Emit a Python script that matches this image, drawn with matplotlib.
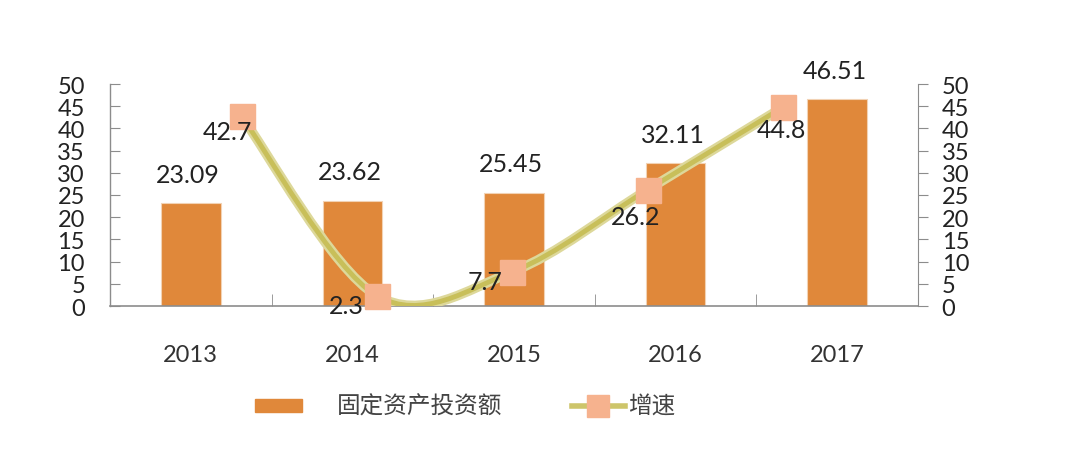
import matplotlib
matplotlib.use("Agg")
import matplotlib.pyplot as plt
from matplotlib.path import Path
from matplotlib.patches import PathPatch, Rectangle
from matplotlib.lines import Line2D
import numpy as np

years = ["2013", "2014", "2015", "2016", "2017"]
invest = [23.09, 23.62, 25.45, 32.11, 46.51]
growth = [42.7, 2.3, 7.7, 26.2, 44.8]
growth_labels = ["42.7", "2.3", "7.7", "26.2", "44.8"]
yticks = [0, 5, 10, 15, 20, 25, 30, 35, 40, 45, 50]
legend_labels = ["固定资产投资额", "增速"]

plt.rcParams['font.family'] = ['Lato', 'DejaVu Sans']

W, H = 1068, 456
fig = plt.figure(figsize=(W / 100, H / 100), dpi=100)
ax = fig.add_axes([110 / W, 1 - 307 / H, (918 - 110) / W, (307 - 85) / H])

bar_color = '#e0883a'
line_color = '#cdc56a'
marker_color = '#f6b28e'
axis_color = '#8c8c8c'

x = np.arange(len(years))
ax.bar(x, invest, width=0.37, color=bar_color, edgecolor='#f2d2b4', linewidth=0.8, zorder=2)
ax.set_xlim(-0.5, 4.5)
ax.set_ylim(0, 50)
ax.set_yticks(yticks)
ax.set_yticklabels([str(t) for t in yticks], fontsize=17, color='#222222')
ax.set_xticks(x)
ax.set_xticklabels(years, fontsize=17, color='#333333')
ax.set_xticks(np.arange(0.5, 4.5, 1), minor=True)
ax.tick_params(axis='x', which='major', length=0, pad=27)
ax.tick_params(axis='x', which='minor', length=9, direction='in', color=axis_color)
ax.tick_params(axis='y', length=7, direction='in', color=axis_color, pad=18)
for s in ['top', 'right']:
    ax.spines[s].set_visible(False)
ax.spines['left'].set_color(axis_color)
ax.spines['bottom'].set_color(axis_color)
ax.spines['left'].set_linewidth(1.0)
ax.spines['bottom'].set_linewidth(1.2)

for xi, v in zip(x, invest):
    ax.annotate(f"{v:.2f}", (xi, v), xytext=(-2, 21), textcoords='offset points',
                ha='center', va='center', fontsize=18, color='#222222', zorder=6)

# right axis
ax2 = ax.twinx()
ax2.set_ylim(0, 50)
ax2.set_yticks(yticks)
ax2.set_yticklabels([str(t) for t in yticks], fontsize=17, color='#222222')
ax2.tick_params(axis='y', length=7, direction='out', color=axis_color, pad=10)
for s in ['top', 'left', 'bottom']:
    ax2.spines[s].set_visible(False)
ax2.spines['right'].set_color(axis_color)

# line on its own x scale
ax3 = ax2.twiny()
ax3.set_xlim(-0.972, 4.996)
ax3.set_ylim(0, 50)
ax3.axis('off')

# smoothed line (Excel-like bezier) in display-scaled coords
sx, sy = 135.4, 222 / 50
P = np.column_stack([np.arange(len(growth)) * sx, np.array(growth) * sy])
verts = [P[0]]
codes = [Path.MOVETO]
n = len(P)
for i in range(n - 1):
    p0 = P[i - 1] if i > 0 else P[i]
    p1 = P[i]
    p2 = P[i + 1]
    p3 = P[i + 2] if i + 2 < n else P[i + 1]
    c1 = p1 + (p2 - p0) / 6
    c2 = p2 - (p3 - p1) / 6
    verts += [c1, c2, p2]
    codes += [Path.CURVE4] * 3
verts = np.array(verts) / np.array([sx, sy])
path = Path(verts, codes)
ax3.add_patch(PathPatch(path, facecolor='none', edgecolor='#ddd89a', linewidth=7, zorder=3,
                        capstyle='round', clip_on=True))
ax3.add_patch(PathPatch(path, facecolor='none', edgecolor='#c8bf5a', linewidth=3.5, zorder=3,
                        capstyle='round', clip_on=True))
ax3.plot(np.arange(len(growth)), growth, linestyle='none', marker='s', markersize=18,
         color=marker_color, zorder=4, clip_on=False)

offsets = [(-10, -11), (-22, -7), (-20, -7), (-9, -19), (-1, -16)]
for xi, v, lab, off in zip(np.arange(len(growth)), growth, growth_labels, offsets):
    ax3.annotate(lab, (xi, v), xytext=off, textcoords='offset points',
                 ha='center', va='center', fontsize=18, color='#222222', zorder=6,
                 annotation_clip=False)

# legend
fig.patches.append(Rectangle((255 / W, 1 - 413 / H), 47 / W, 13 / H, transform=fig.transFigure,
                             color=bar_color, zorder=5))
fig.text(337 / W, 1 - 407 / H, legend_labels[0], fontsize=17, va='center', ha='left',
         color='#444444', family=['Noto Sans CJK SC', 'DejaVu Sans'], fontweight='light')
fig.lines.append(Line2D([572 / W, 625 / W], [1 - 407 / H, 1 - 407 / H], transform=fig.transFigure,
                        color=line_color, linewidth=4))
fig.lines.append(Line2D([598 / W], [1 - 407 / H], transform=fig.transFigure, marker='s',
                        markersize=16, color=marker_color, linestyle='none'))
fig.text(628 / W, 1 - 407 / H, legend_labels[1], fontsize=17, va='center', ha='left',
         color='#444444', family=['Noto Sans CJK SC', 'DejaVu Sans'], fontweight='light')

fig.savefig('out.png', dpi=100, facecolor='white')
